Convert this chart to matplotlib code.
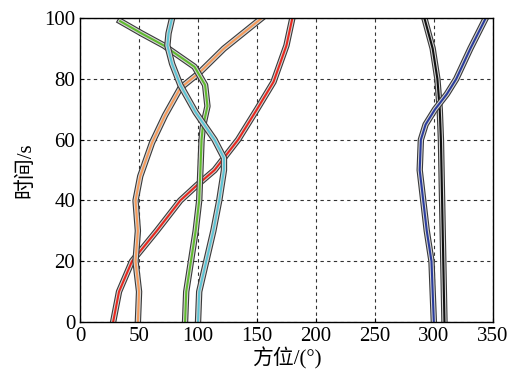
import matplotlib.pyplot as plt
import matplotlib.patheffects as pe

plt.rcParams['font.family'] = ['Liberation Serif', 'Noto Sans CJK SC']

# time (s) and azimuth (deg)
t_red = [0, 10, 20, 30, 40, 45, 50, 60, 70, 79, 91, 100]
az_red = [28, 33, 44, 65, 85, 99, 114, 134, 150, 164, 175, 180]

t_orange = [0, 10, 20, 30, 40, 48, 59, 68, 77, 82, 90, 100]
az_orange = [49, 50, 47, 49, 47, 51, 61, 72, 85, 101, 122, 154]

t_green = [0, 10, 20, 30, 40, 50, 60, 64, 71, 78, 84, 91, 95, 99]
az_green = [89, 90, 94, 98, 101, 102, 103, 104, 108, 106, 97, 71, 52, 34]

t_cyan = [0, 10, 20, 30, 40, 50, 54, 60, 69, 78, 85, 91, 95, 100]
az_cyan = [100, 101, 107, 113, 118, 122, 122, 114, 98, 85, 78, 74, 75, 78]

t_black = [0, 20, 40, 60, 70, 80, 90, 100]
az_black = [309, 308, 307, 306, 305, 303, 299, 292]

t_blue = [0, 10, 20, 30, 40, 50, 60, 65, 70, 75, 80, 90, 100]
az_blue = [300, 299, 298, 294, 291, 288, 289, 293, 301, 311, 319, 331, 344]

series = [
    (az_red, t_red, '#e8281e'),
    (az_orange, t_orange, '#f59a5a'),
    (az_green, t_green, '#5fba2e'),
    (az_cyan, t_cyan, '#5cc4d4'),
    (az_black, t_black, '#111111'),
    (az_blue, t_blue, '#2a3c9c'),
]

fig = plt.figure(figsize=(5.07, 3.78), dpi=100)
ax = fig.add_axes([0.158, 0.148, 0.814, 0.804])

for x, y, c in series:
    ax.plot(x, y, color=c, lw=1.5,
            path_effects=[pe.Stroke(linewidth=4.6, foreground='#3a3a3a'),
                          pe.Stroke(linewidth=3.0, foreground='#d6d6d6'),
                          pe.Normal()])

ax.set_xlim(0, 350)
ax.set_ylim(0, 100)
ax.set_xticks(range(0, 351, 50))
ax.set_yticks(range(0, 101, 20))
ax.grid(True, color='#333333', linestyle=(0, (3, 3)), lw=0.8)
ax.tick_params(direction='in', labelsize=15, length=3)
for s in ax.spines.values():
    s.set_linewidth(1.0)

ax.set_xlabel('方位/(°)', fontsize=15, labelpad=1)
ax.set_ylabel('时间/s', fontsize=15, labelpad=6)

fig.savefig('out.png', dpi=100)
